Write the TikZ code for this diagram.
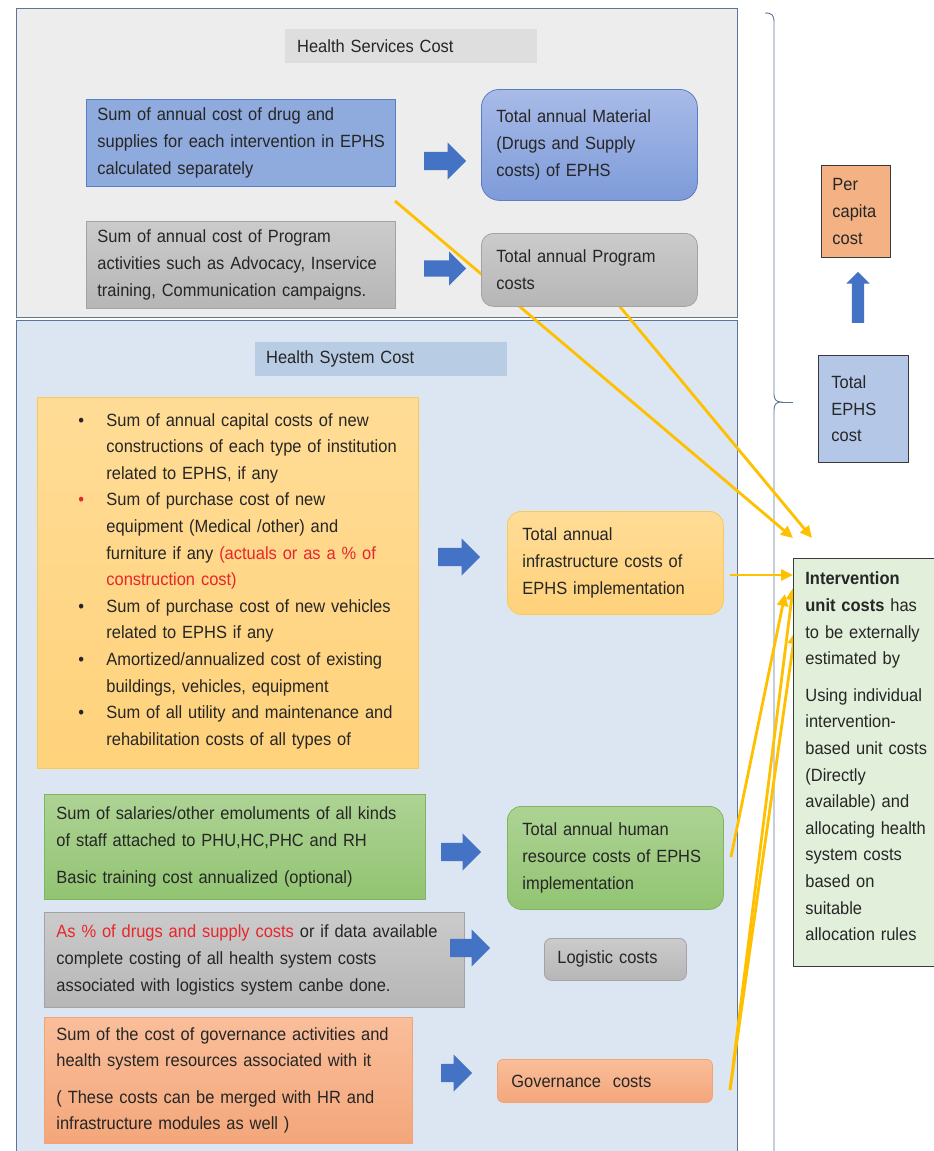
\documentclass[tikz,border=0pt]{standalone}
\usepackage{fontspec}
\setmainfont{Liberation Sans}[FakeStretch=0.93]
\usetikzlibrary{shapes.arrows, arrows.meta, calc}

\definecolor{FrameLine}{HTML}{5E7595}
\definecolor{SvcFill}{HTML}{EDEDED}
\definecolor{SysFill}{HTML}{DCE6F2}
\definecolor{SvcHead}{HTML}{DEDEDE}
\definecolor{SysHead}{HTML}{B8CCE4}
\definecolor{TextDark}{HTML}{262626}
\definecolor{TextRed}{HTML}{E8262B}
\definecolor{DrugBlue}{HTML}{8FAADC}
\definecolor{DrugEdge}{HTML}{5A7EC6}
\definecolor{MatTop}{HTML}{A8BBE8}
\definecolor{MatBot}{HTML}{7E9BD9}
\definecolor{GrayTop}{HTML}{CBCBCB}
\definecolor{GrayBot}{HTML}{B6B6B6}
\definecolor{GrayEdge}{HTML}{A3A3A3}
\definecolor{GoldTop}{HTML}{FFDC96}
\definecolor{GoldBot}{HTML}{FFD27B}
\definecolor{GoldEdge}{HTML}{F9C95A}
\definecolor{LeafTop}{HTML}{ADD394}
\definecolor{LeafBot}{HTML}{92C472}
\definecolor{LeafEdge}{HTML}{80B560}
\definecolor{SalmonTop}{HTML}{F9BE9A}
\definecolor{SalmonBot}{HTML}{F4A67A}
\definecolor{SalmonEdge}{HTML}{F0A475}
\definecolor{PerCap}{HTML}{F4B183}
\definecolor{EphsBlue}{HTML}{B4C7E7}
\definecolor{UnitGreen}{HTML}{E2EFDA}
\definecolor{BoxEdge}{HTML}{3A3A3A}
\definecolor{ArrowBlue}{HTML}{4472C4}
\definecolor{FeedLine}{HTML}{FFC000}

\pgfdeclarelayer{back}
\pgfdeclarelayer{mid}
\pgfsetlayers{back,mid,main}

\newcommand{\diagfont}{\fontsize{17.7pt}{26.6pt}\selectfont}
\newcommand{\bitem}[1][TextDark]{\par\noindent\hangindent=61pt\hangafter=1\hspace*{33pt}\makebox[28pt][l]{\color{#1}\textbullet}}

\begin{document}
\begin{tikzpicture}[x=1pt, y=-1pt, font=\diagfont, text=TextDark,
    panel/.style={draw=FrameLine, line width=1pt},
    headbar/.style={anchor=north west, inner xsep=12pt, inner ysep=0pt, align=left, minimum width=252pt, minimum height=34pt, text width=228pt},
    costbox/.style={anchor=north west, align=left, inner xsep=11pt, inner ysep=2pt, line width=0.8pt},
    roundbox/.style={costbox, inner xsep=15pt, rounded corners=14pt},
    bluearrow/.style={single arrow, anchor=tail, fill=ArrowBlue, inner xsep=0pt, inner ysep=9pt, minimum width=37pt, single arrow head extend=9.5pt},
    feed/.style={draw=FeedLine, line width=2.8pt, -{Triangle[length=12pt,width=11pt]}}]

  \useasboundingbox (0,0) rectangle (934,1151);

  % the two cost panels
  \begin{pgfonlayer}{back}
    \fill[white] (0,0) rectangle (934,1151);
    \fill[SvcFill] (16,8) rectangle (737,317);
    \draw[panel] (16,8) rectangle (737,317);
    \fill[SysFill] (16,320) rectangle (737,1170);
    \draw[panel] (16,320) rectangle (737,1170);
    % brace round both panels
    \draw[FrameLine, line width=0.9pt] (765,13) .. controls (772,13) and (774,15) .. (774,22) -- (774,394)
      .. controls (774,399) and (776,402) .. (781,402) .. controls (776,402) and (774,405) .. (774,410) -- (774,1170);
    \draw[FrameLine, line width=0.9pt] (781,402) -- (793,402);
  \end{pgfonlayer}

  \node[headbar, fill=SvcHead] (svchead) at (285,29) {Health Services Cost};
  \node[headbar, fill=SysHead, inner xsep=11pt, text width=230pt] (syshead) at (255,342) {Health System Cost};

  % health services cost
  \node[costbox, fill=DrugBlue, draw=DrugEdge, minimum width=309pt, minimum height=87pt, text width=287pt] (drugs) at (86,99)
    {Sum of annual cost of drug and\\\mbox{supplies for each intervention in EPHS}\\calculated separately};
  \node[roundbox, top color=MatTop, bottom color=MatBot, draw=DrugEdge, rounded corners=18pt, minimum width=216pt, minimum height=111pt, text width=186pt] (material) at (481,89)
    {Total annual Material\\(Drugs and Supply\\costs) of EPHS};
  \node[costbox, top color=GrayTop, bottom color=GrayBot, draw=GrayEdge, minimum width=309pt, minimum height=87pt, text width=287pt] (progin) at (86,221)
    {Sum of annual cost of Program\\activities such as Advocacy, Inservice\\training, Communication campaigns.};
  \node[roundbox, top color=GrayTop, bottom color=GrayBot, draw=GrayEdge, rounded corners=12pt, minimum width=216pt, minimum height=73pt, text width=186pt] (progtot) at (481,233)
    {Total annual Program\\costs};

  % health system cost
  \node[costbox, top color=GoldTop, bottom color=GoldBot, draw=GoldEdge, inner xsep=8pt, minimum width=381pt, minimum height=365pt, text width=365pt] (infrain) at (37,397)
    {\bitem Sum of annual capital costs of new\newline constructions of each type of institution\newline related to EPHS, if any
     \bitem[TextRed]Sum of purchase cost of new\newline equipment (Medical /other) and\newline furniture if any {\color{TextRed}(actuals or as a \% of}\newline {\color{TextRed}construction cost)}
     \bitem Sum of purchase cost of new vehicles\newline related to EPHS if any
     \bitem Amortized/annualized cost of existing\newline buildings, vehicles, equipment
     \bitem Sum of all utility and maintenance and\newline rehabilitation costs of all types of\par\vspace*{18pt}};
  \node[roundbox, top color=GoldTop, bottom color=GoldBot, draw=GoldEdge, minimum width=216pt, minimum height=103pt, text width=186pt] (infratot) at (507,511)
    {Total annual\\infrastructure costs of\\EPHS implementation};

  \node[costbox, top color=LeafTop, bottom color=LeafBot, draw=LeafEdge, inner xsep=12pt, minimum width=381pt, minimum height=105pt, text width=357pt] (hrin) at (44,794)
    {Sum of salaries/other emoluments of all kinds\\of staff attached to PHU,HC,PHC and RH\\[10pt]Basic training cost annualized (optional)};
  \node[roundbox, top color=LeafTop, bottom color=LeafBot, draw=LeafEdge, minimum width=216pt, minimum height=103pt, text width=186pt] (hrtot) at (507,806)
    {Total annual human\\resource costs of EPHS\\implementation};

  \node[costbox, top color=GrayTop, bottom color=GrayBot, draw=GrayEdge, inner xsep=12pt, minimum width=420pt, minimum height=95pt, text width=396pt] (login) at (44,912)
    {{\color{TextRed}As \% of drugs and supply costs} or if data available\\complete costing of all health system costs\\associated with logistics system canbe done.};
  \node[roundbox, top color=GrayTop, bottom color=GrayBot, draw=GrayEdge, inner xsep=13pt, rounded corners=7pt, minimum width=142pt, minimum height=42pt, text width=116pt] (logtot) at (544,938)
    {Logistic costs};

  \node[costbox, top color=SalmonTop, bottom color=SalmonBot, draw=SalmonEdge, inner xsep=12pt, minimum width=368pt, minimum height=126pt, text width=344pt] (govin) at (44,1017)
    {Sum of the cost of governance activities and\\health system resources associated with it\\[10pt]( These costs can be merged with HR and\\infrastructure modules as well )};
  \node[roundbox, top color=SalmonTop, bottom color=SalmonBot, draw=SalmonEdge, inner xsep=14pt, rounded corners=6pt, minimum width=215pt, minimum height=43pt, text width=187pt] (govtot) at (497,1059)
    {Governance\ \ costs};

  % right column
  \node[costbox, fill=PerCap, draw=BoxEdge, minimum width=69pt, minimum height=92pt, text width=47pt] (percap) at (821,165)
    {Per\\capita\\cost};
  \node[costbox, fill=EphsBlue, draw=BoxEdge, inner xsep=13pt, minimum width=90pt, minimum height=107pt, text width=64pt] (ephstot) at (818,355)
    {Total\\EPHS\\cost};
  \node[costbox, fill=UnitGreen, draw=BoxEdge, inner xsep=12pt, minimum width=160pt, minimum height=408pt, text width=136pt] (unitcost) at (793,558)
    {\textbf{Intervention}\\\textbf{unit costs} has\\to be externally\\estimated by\\[10pt]Using individual\\intervention-\\based unit costs\\(Directly\\available) and\\allocating health\\system costs\\based on\\suitable\\allocation rules\par\vspace*{12pt}};

  % block arrows
  \node[bluearrow, minimum height=42pt] (a1) at (424,161) {};
  \node[bluearrow, minimum height=42pt, minimum width=34pt, inner ysep=8pt, single arrow head extend=9pt] (a2) at (424,268.5) {};
  \node[bluearrow, minimum height=42pt] (a3) at (438,557) {};
  \node[bluearrow, minimum height=40pt] (a4) at (441,852) {};
  \node[bluearrow, minimum height=40pt] (a5) at (450,948) {};
  \node[bluearrow, minimum height=31pt] (a6) at (441,1073) {};
  \node[bluearrow, rotate=90, minimum height=51pt, minimum width=23pt, inner ysep=6pt, single arrow head extend=5.5pt] (a7) at (858,323) {};

  % feeds into the unit cost box
  \coordinate (drugtail) at (395,201);
  \coordinate (unittop1) at (793,538);
  \coordinate (unittop2) at (812,538);
  \coordinate (infratail) at (730,575);
  \coordinate (unitin1) at (793,575);
  \coordinate (hrtail) at (731,857);
  \coordinate (unitin2) at (785,594);
  \coordinate (govtail) at (730,1090);
  \coordinate (unitin3) at (793,588);
  \coordinate (unitin4) at (795,632);
  \begin{pgfonlayer}{mid}
    \draw[feed] (drugtail) -- (unittop1);
    \draw[feed] (progtot.center) -- (unittop2);
    \draw[feed] (infratail) -- (unitin1);
    \draw[feed] (hrtail) -- (unitin2);
    \draw[feed] (govtail) -- (unitin3);
    \draw[feed] (govtail) -- (unitin4);
  \end{pgfonlayer}
\end{tikzpicture}
\end{document}
